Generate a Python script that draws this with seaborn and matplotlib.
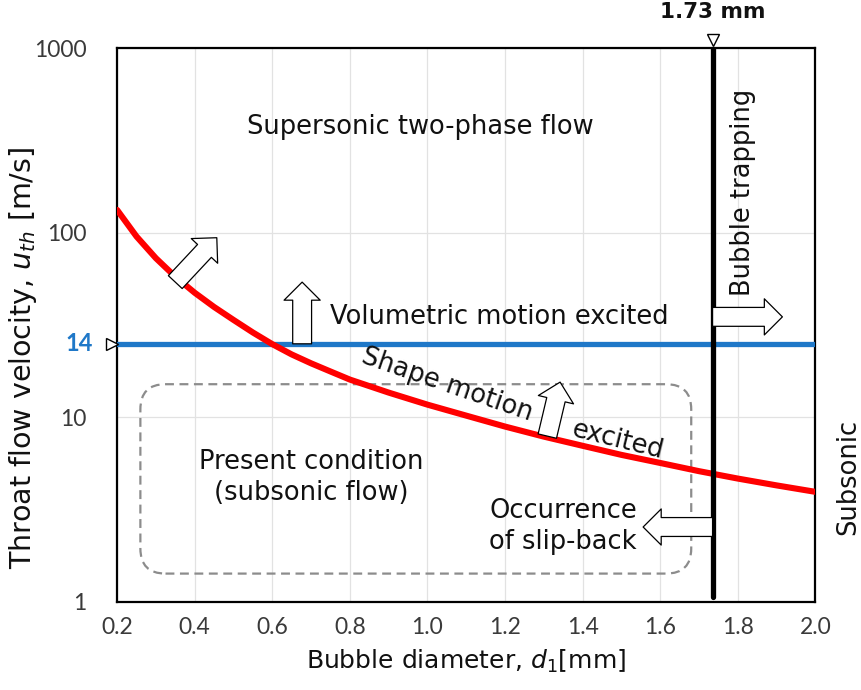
import matplotlib
matplotlib.use("Agg")
import matplotlib.pyplot as plt
import matplotlib.transforms as mtransforms
from matplotlib.patches import FancyBboxPatch
import pandas as pd
import seaborn as sns

# threshold throat velocity for shape motion (red curve)
diameter_mm = [0.20, 0.25, 0.30, 0.35, 0.40, 0.45, 0.50, 0.55, 0.60, 0.65,
               0.70, 0.75, 0.80, 0.90, 1.00, 1.10, 1.20, 1.30, 1.40, 1.50,
               1.60, 1.70, 1.80, 1.90, 2.00]
u_shape = [133, 95.5, 72.8, 57.8, 47.3, 39.6, 33.7, 28.8, 24.9, 21.9,
           19.6, 17.7, 16.0, 13.6, 11.7, 10.2, 8.9, 7.85, 7.0, 6.25,
           5.65, 5.1, 4.65, 4.27, 3.94]

# volumetric motion level (blue line) and bubble trapping size (black line)
vol_span = [0.2, 2.0]
vol_level = [25, 25]
vol_label = "14"
d_trap = 1.735
trap_label = "1.73 mm"

x_ticks = [0.2, 0.4, 0.6, 0.8, 1.0, 1.2, 1.4, 1.6, 1.8, 2.0]
y_ticks = [1, 10, 100, 1000]

# present-condition region (dashed box), in d and u
box_d = [0.26, 1.68]
box_u = [1.42, 15.1]

sns.set_theme(style="white")
plt.rcParams['font.family'] = ['DejaVu Sans']

fig = plt.figure(figsize=(8.61, 6.9), dpi=100)
ax = fig.add_axes([0.136, 0.128, 0.811, 0.802])

df = pd.DataFrame({"d": diameter_mm, "u": u_shape})
sns.lineplot(data=df, x="d", y="u", color="#ff0000", lw=4.4, ax=ax, zorder=4)
sns.lineplot(x=vol_span, y=vol_level, color="#1f78c8", lw=3.8, ax=ax, zorder=3)
ax.axvline(d_trap, ymin=0.008, ymax=1, color="black", lw=3.8, zorder=5)

ax.set_yscale("log")
ax.set_xlim(0.2, 2.0)
ax.set_ylim(1, 1000)
ax.set_xticks(x_ticks)
ax.set_xticklabels([f"{v:.1f}" for v in x_ticks])
ax.set_yticks(y_ticks)
ax.set_yticklabels([str(v) for v in y_ticks])
ax.yaxis.set_minor_locator(matplotlib.ticker.NullLocator())
ax.tick_params(length=0, labelsize=16.5, labelcolor="#3a3a3a")
ax.tick_params(axis="y", pad=22)
ax.tick_params(axis="x", pad=11)
for lab in ax.get_xticklabels() + ax.get_yticklabels():
    lab.set_family("Lato")

ax.grid(True, color="#e2e2e2", lw=0.9)
for s in ax.spines.values():
    s.set_color("black")
    s.set_linewidth(1.6)

ax.set_xlabel("Bubble diameter, $d_1$[mm]", fontsize=18, color="#111111")
ax.set_ylabel("Throat flow velocity, $u_{th}$ [m/s]", fontsize=20.5, color="#111111")
ax.xaxis.set_label_coords(0.50, -0.083)
ax.yaxis.set_label_coords(-0.112, 0.44)

# blue level label and markers on the axes
ylab_tr = mtransforms.blended_transform_factory(ax.transAxes, ax.transData)
ax.text(-0.034, vol_level[0], vol_label, transform=ylab_tr, ha="right", va="center",
        fontsize=17, fontweight="bold", color="#1f78c8", family="Lato")
off_up = mtransforms.offset_copy(ax.transData, fig=fig, x=0, y=6, units="points")
ax.plot([d_trap], [1000], marker="v", ms=9, mfc="white", mec="black", mew=1,
        clip_on=False, transform=off_up, zorder=6)
ax.annotate(trap_label, xy=(d_trap, 1000), xytext=(0, 19), textcoords="offset points",
            ha="center", va="bottom", fontsize=15.5, fontweight="bold", color="#111111",
            annotation_clip=False)
off_left = mtransforms.offset_copy(ax.transData, fig=fig, x=-4, y=0, units="points")
ax.plot([0.2], [vol_level[0]], marker=">", ms=9, mfc="white", mec="black", mew=1,
        clip_on=False, transform=off_left, zorder=6)

# dashed rounded box
p0 = ax.transAxes.inverted().transform(ax.transData.transform((box_d[0], box_u[0])))
p1 = ax.transAxes.inverted().transform(ax.transData.transform((box_d[1], box_u[1])))
aspect = (0.811 * 861) / (0.802 * 690)
box = FancyBboxPatch(p0, p1[0] - p0[0], p1[1] - p0[1],
                     boxstyle="round,pad=0,rounding_size=0.036", mutation_aspect=aspect,
                     transform=ax.transAxes, fill=False, ec="#8c8c8c", lw=1.6,
                     ls=(0, (4, 2.5)), zorder=2)
ax.add_patch(box)

# hollow block arrows: (tail d, tail u, tip d, tip u)
arrows = [
    (0.35, 54, 0.457, 94),
    (0.677, 25, 0.677, 54),
    (1.309, 7.9, 1.342, 15.5),
    (d_trap, 35, 1.915, 35),
    (d_trap, 2.54, 1.556, 2.54),
]
for d0, u0, d1, u1 in arrows:
    ax.annotate("", xy=(d1, u1), xytext=(d0, u0),
                arrowprops=dict(arrowstyle="simple,head_length=0.65,head_width=1.3,tail_width=0.68",
                                mutation_scale=20, fc="white", ec="black", lw=0.9,
                                shrinkA=0, shrinkB=0),
                zorder=7)

txt = dict(fontsize=18.5, color="#111111", zorder=8)
ax.text(0.535, 375, "Supersonic two-phase flow", ha="left", va="center", **txt)
ax.text(0.749, 35, "Volumetric motion excited", ha="left", va="center", **txt)
ax.text(1.05, 15.0, "Shape motion", ha="center", va="center", rotation=-19, **txt)
ax.text(1.49, 7.5, "excited", ha="center", va="center", rotation=-14, **txt)
ax.text(0.70, 4.7, "Present condition\n(subsonic flow)", ha="center", va="center",
        linespacing=1.25, **txt)
ax.text(1.35, 2.57, "Occurrence\nof slip-back", ha="center", va="center",
        linespacing=1.25, **txt)
ax.text(1.814, 165, "Bubble trapping", ha="center", va="center", rotation=90, **txt)
ax.text(2.085, 4.76, "Subsonic", ha="center", va="center", rotation=90,
        clip_on=False, **txt)

fig.savefig("out.png", dpi=100)
